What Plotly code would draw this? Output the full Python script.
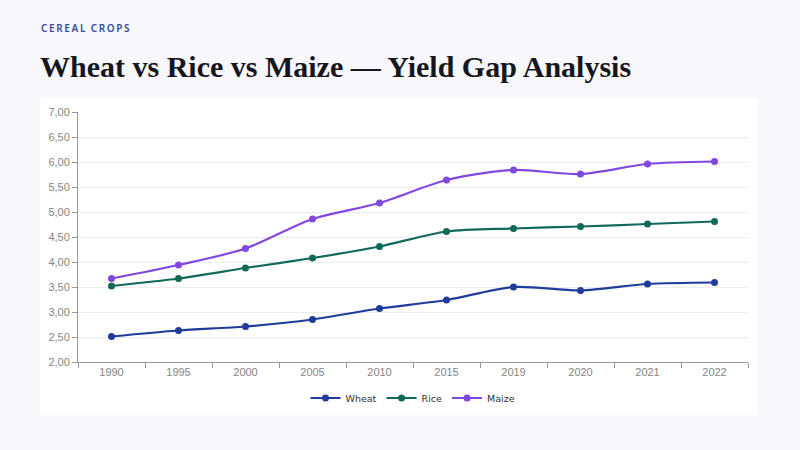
import plotly.graph_objects as go

# Yield data (t/ha)
years = ["1990", "1995", "2000", "2005", "2010", "2015", "2019", "2020", "2021", "2022"]
wheat = [2.51, 2.63, 2.71, 2.85, 3.07, 3.24, 3.50, 3.43, 3.56, 3.59]
rice = [3.52, 3.67, 3.88, 4.08, 4.31, 4.61, 4.67, 4.71, 4.76, 4.81]
maize = [3.67, 3.94, 4.27, 4.86, 5.18, 5.64, 5.84, 5.76, 5.96, 6.01]

series = [
    ("Wheat", wheat, "#1f3c9c"),
    ("Rice", rice, "#11695a"),
    ("Maize", maize, "#8148e0"),
]

fig = go.Figure()
for name, vals, color in series:
    fig.add_trace(go.Scatter(
        x=years, y=vals, name=name, mode="lines+markers",
        line=dict(color=color, width=2.2, shape="spline", smoothing=0.8),
        marker=dict(color=color, size=7),
    ))

# white card behind the chart
fig.add_shape(type="rect", xref="paper", yref="paper",
              x0=-38 / 670, x1=680 / 670, y0=-53 / 250, y1=264 / 250,
              fillcolor="white", line=dict(width=0), layer="below")

# letter-spaced kicker
kicker = "  ".join("\u2009".join(w) for w in "CEREAL CROPS".split())
fig.add_annotation(text=kicker, xref="paper", yref="paper",
                   x=-39 / 670, y=334 / 250, xanchor="left", yanchor="middle",
                   showarrow=False,
                   font=dict(family="Noto Sans", size=10, color="#3a4a9c", weight=600))
fig.add_annotation(text="<b>Wheat vs Rice vs Maize — Yield Gap Analysis</b>",
                   xref="paper", yref="paper",
                   x=-40 / 670, y=296 / 250, xanchor="left", yanchor="middle",
                   showarrow=False,
                   font=dict(family="Liberation Serif", size=30, color="#16161e"))

fig.update_layout(
    width=800, height=450,
    margin=dict(l=78, r=52, t=112, b=88),
    paper_bgcolor="#f8f8fc",
    plot_bgcolor="white",
    separators=", ",
    showlegend=True,
    legend=dict(orientation="h", x=0.5, xanchor="center", y=-36 / 250, yanchor="middle",
                font=dict(family="DejaVu Sans", size=9.5, color="#333"),
                itemwidth=30, bgcolor="rgba(0,0,0,0)"),
    xaxis=dict(type="category", range=[-0.5, len(years) - 0.5],
               showline=True, linecolor="#999", linewidth=1,
               ticks="outside", tickson="boundaries", ticklen=5, tickcolor="#999",
               showgrid=False,
               tickfont=dict(family="Liberation Sans", size=11, color="#858585")),
    yaxis=dict(range=[2, 7], dtick=0.5, tickformat=".2f", showline=True,
               linecolor="#999", linewidth=1, ticks="outside", ticklen=5,
               tickcolor="#999", gridcolor="#ececf0", zeroline=False,
               tickfont=dict(family="Liberation Sans", size=11, color="#858585")),
)

# drop the default body margin so the figure sits at the window corner
fig.write_html("out.html", config={"displayModeBar": False},
               post_script="document.body.style.margin='0';")
